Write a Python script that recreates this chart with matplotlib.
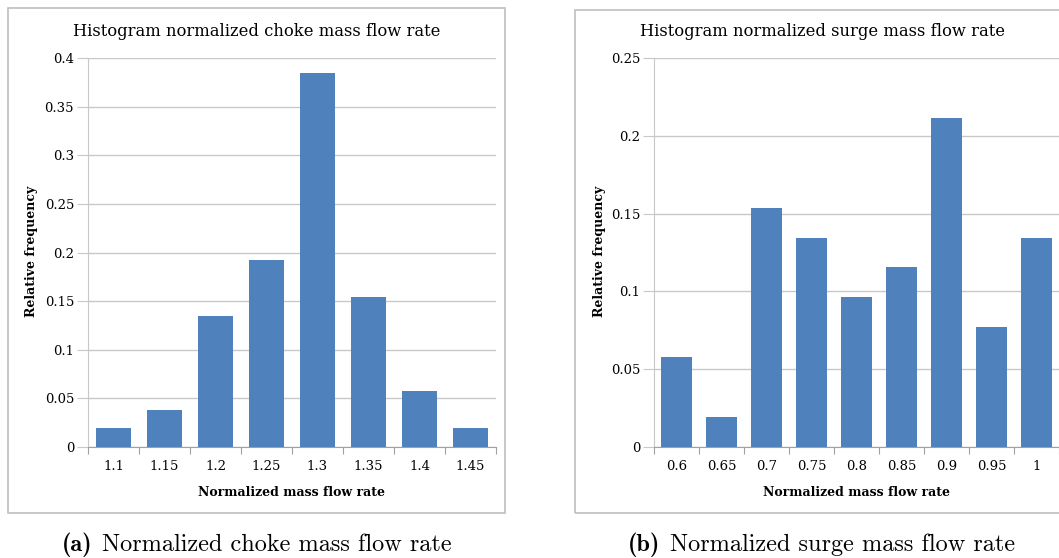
import matplotlib
matplotlib.use("Agg")
import matplotlib.pyplot as plt
from matplotlib.patches import Rectangle

# Relative frequencies of the normalized mass flow rates
choke_bins = ["1.1", "1.15", "1.2", "1.25", "1.3", "1.35", "1.4", "1.45"]
choke_freq = [0.0192, 0.0385, 0.1346, 0.1923, 0.3846, 0.1538, 0.0577, 0.0192]
choke_yticks = [0, 0.05, 0.1, 0.15, 0.2, 0.25, 0.3, 0.35, 0.4]

surge_bins = ["0.6", "0.65", "0.7", "0.75", "0.8", "0.85", "0.9", "0.95", "1"]
surge_freq = [0.0577, 0.0192, 0.1538, 0.1346, 0.0962, 0.1154, 0.2115, 0.0769, 0.1346]
surge_yticks = [0, 0.05, 0.1, 0.15, 0.2, 0.25]

titles = ["Histogram normalized choke mass flow rate",
          "Histogram normalized surge mass flow rate"]
caption_tags = ["(a)", "(b)"]
caption_texts = ["Normalized choke mass flow rate",
                 "Normalized surge mass flow rate"]

W, H = 1059, 558
fig = plt.figure(figsize=(W / 100, H / 100), dpi=100)
renderer = fig.canvas.get_renderer()

BAR = "#4F81BD"
GRID = "#C8C8C8"
AXIS = "#A0A0A0"
BORDER = "#BFBFBF"
SERIF = "DejaVu Serif"


def fx(px):
    return px / W


def fy(py):
    return 1 - py / H


def caption(cx, tag, text):
    """Bold tag followed by a roman description, centred as one line."""
    size = 17.5
    gap = 9
    t1 = fig.text(0, fy(545), tag, ha="left", va="center",
                  fontfamily="cmb10", fontsize=size)
    t2 = fig.text(0, fy(545), text, ha="left", va="center",
                  fontfamily="cmr10", fontsize=size)
    w1 = t1.get_window_extent(renderer).width
    w2 = t2.get_window_extent(renderer).width
    left = cx - (w1 + gap + w2) / 2
    t1.set_x(fx(left))
    t2.set_x(fx(left + w1 + gap))


def panel(x0, x1, bins, freq, yticks, title, title_cx, box, ylab_x):
    ax = fig.add_axes([fx(x0), fy(447), fx(x1) - fx(x0), fy(58) - fy(447)])
    n = len(bins)
    pos = list(range(n))
    ax.bar(pos, freq, width=0.68, color=BAR, zorder=3)
    ax.set_xlim(-0.5, n - 0.5)
    ax.set_ylim(0, yticks[-1])
    ax.set_yticks(yticks)
    ax.set_yticklabels([f"{t:g}" for t in yticks], fontfamily=SERIF, fontsize=9.5)
    ax.set_xticks([i - 0.5 for i in range(n + 1)])
    ax.set_xticklabels([])
    ax.set_xticks(pos, minor=True)
    ax.set_xticklabels(bins, minor=True, fontfamily=SERIF, fontsize=9.5)
    ax.tick_params(axis="x", which="major", length=5, color=AXIS, direction="out")
    ax.tick_params(axis="x", which="minor", length=0, pad=9)
    ax.tick_params(axis="y", length=8, color=GRID, pad=2)
    ax.yaxis.grid(True, color=GRID, linewidth=1, zorder=0)
    for s in ("top", "right"):
        ax.spines[s].set_visible(False)
    ax.spines["left"].set_color(GRID)
    ax.spines["bottom"].set_color(AXIS)
    ax.set_axisbelow(True)

    bx0, by0, bx1, by1 = box
    fig.patches.append(Rectangle((fx(bx0), fy(by1)), fx(bx1) - fx(bx0), fy(by0) - fy(by1),
                                 transform=fig.transFigure, fill=False,
                                 edgecolor=BORDER, linewidth=1.2))
    cx = (x0 + x1) / 2
    fig.text(fx(title_cx), fy(32), title, ha="center", va="center",
             fontfamily=SERIF, fontsize=11.8)
    fig.text(fx(cx), fy(492), "Normalized mass flow rate", ha="center", va="center",
             fontfamily=SERIF, fontsize=9, fontweight="bold")
    fig.text(fx(ylab_x), fy(251), "Relative frequency", ha="center", va="center",
             rotation=90, fontfamily=SERIF, fontsize=9, fontweight="bold")
    return ax


panel(88, 496, choke_bins, choke_freq, choke_yticks, titles[0], 257,
      (8, 8, 505, 513), 32)
panel(654, 1059, surge_bins, surge_freq, surge_yticks, titles[1], 822,
      (575, 10, 1075, 513), 600)

caption(256.5, caption_tags[0], caption_texts[0])
caption(821.5, caption_tags[1], caption_texts[1])

fig.savefig("out.png", dpi=100)
